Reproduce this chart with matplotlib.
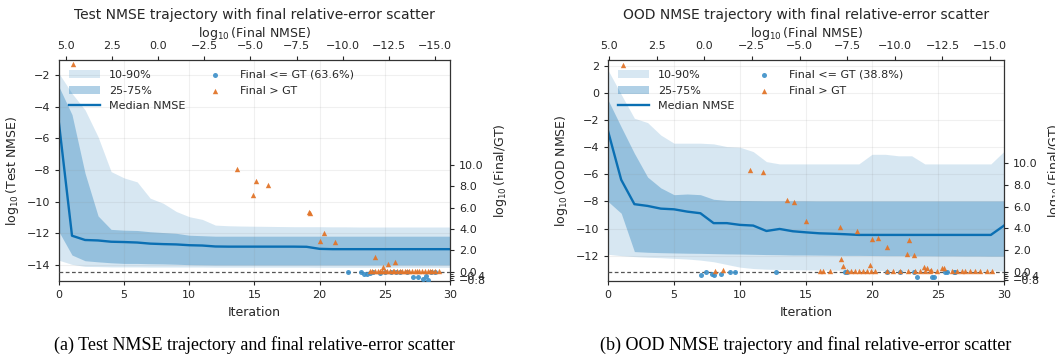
import matplotlib

matplotlib.use("Agg")

import matplotlib.pyplot as plt
from matplotlib.ticker import FixedLocator, FuncFormatter, MultipleLocator

# per-iteration percentiles of log10 NMSE
iterations = list(range(31))

test_p10 = [-13.70, -13.96, -14.09, -14.10, -14.12, -14.12, -14.12, -14.13, -14.13, -14.13,
            -14.13, -14.13, -14.14, -14.14, -14.14, -14.14, -14.14, -14.14, -14.14, -14.14,
            -14.15, -14.15, -14.15, -14.15, -14.15, -14.15, -14.15, -14.15, -14.15, -14.15, -14.15]
test_p25 = [-11.90, -13.37, -13.73, -13.80, -13.86, -13.90, -13.90, -13.92, -13.93, -13.95,
            -13.98, -13.99, -14.00, -14.00, -14.00, -14.00, -14.00, -14.00, -14.00, -14.00,
            -14.00, -14.00, -14.00, -14.00, -14.00, -14.00, -14.00, -14.00, -14.00, -14.00, -14.00]
test_p50 = [-5.05, -12.15, -12.42, -12.45, -12.53, -12.55, -12.58, -12.65, -12.68, -12.70,
            -12.75, -12.77, -12.83, -12.84, -12.84, -12.84, -12.84, -12.84, -12.84, -12.85,
            -12.98, -13.00, -13.00, -13.00, -13.00, -13.00, -13.00, -13.00, -13.00, -13.00, -13.00]
test_p75 = [-2.74, -4.50, -8.20, -10.90, -11.75, -11.80, -11.82, -11.90, -11.95, -12.00,
            -12.12, -12.15, -12.18, -12.18, -12.18, -12.18, -12.18, -12.18, -12.18, -12.18,
            -12.18, -12.18, -12.18, -12.18, -12.18, -12.18, -12.18, -12.18, -12.18, -12.18, -12.18]
test_p90 = [-1.90, -3.16, -4.20, -5.90, -8.10, -8.50, -8.75, -9.78, -10.10, -10.62,
            -10.95, -11.12, -11.48, -11.52, -11.54, -11.55, -11.56, -11.57, -11.58, -11.58,
            -11.58, -11.59, -11.59, -11.60, -11.60, -11.60, -11.60, -11.60, -11.60, -11.60, -11.60]

ood_p10 = [-11.90, -12.00, -12.07, -12.12, -12.15, -12.20, -12.25, -12.33, -12.45, -12.65,
           -12.85, -12.95, -13.00, -13.02, -13.04, -13.05, -13.06, -13.07, -13.08, -13.08,
           -13.09, -13.09, -13.10, -13.10, -13.10, -13.11, -13.11, -13.11, -13.12, -13.12, -13.12]
ood_p25 = [-8.00, -8.87, -11.70, -11.75, -11.78, -11.80, -11.82, -11.83, -11.85, -11.87,
           -11.88, -11.90, -11.92, -11.93, -11.95, -11.95, -11.96, -11.97, -11.98, -11.98,
           -11.99, -12.00, -12.00, -12.01, -12.01, -12.02, -12.02, -12.03, -12.03, -12.04, -12.04]
ood_p50 = [-2.80, -6.40, -8.20, -8.33, -8.53, -8.58, -8.75, -8.87, -9.60, -9.60,
           -9.73, -9.78, -10.18, -10.03, -10.20, -10.28, -10.35, -10.38, -10.42, -10.47,
           -10.47, -10.47, -10.47, -10.47, -10.47, -10.47, -10.47, -10.47, -10.47, -10.47, -9.78]
ood_p75 = [-0.50, -2.50, -4.45, -6.20, -7.00, -7.50, -7.45, -7.50, -7.84, -7.92,
           -7.93, -7.94, -7.95, -7.95, -7.95, -7.95, -7.96, -7.96, -7.96, -7.96,
           -7.96, -7.96, -7.96, -7.96, -7.96, -7.96, -7.96, -7.96, -7.96, -7.96, -7.96]
ood_p90 = [1.70, -0.10, -1.86, -2.18, -3.10, -3.70, -3.70, -3.70, -3.75, -3.95,
           -4.00, -4.32, -5.06, -5.23, -5.23, -5.23, -5.23, -5.23, -5.23, -5.23,
           -4.52, -4.52, -4.63, -4.63, -5.23, -5.23, -5.23, -5.23, -5.23, -5.23, -4.30]

# final scatter: x = log10(final NMSE), y = log10(final / GT)
test_le_x = [-10.30, -10.99, -11.15, -11.30, -11.45, -11.64, -12.02, -12.30, -12.60, -12.90,
             -13.10, -13.50, -13.81, -14.09, -14.36, -14.51, -14.63, -14.80, -15.00]
test_le_y = [-0.02, -0.03, -0.20, -0.25, -0.10, -0.03, -0.15, -0.02, -0.03, -0.02,
             -0.03, -0.02, -0.50, -0.50, -0.66, -0.41, -0.81, -0.02, -0.02]
test_gt_x = [4.62, -4.27, -5.13, -5.30, -5.95, -8.15, -8.22, -8.77, -9.00, -9.58,
             -11.76, -12.20, -12.47, -12.83,
             -11.50, -11.60, -11.75, -11.90, -12.00, -12.15, -12.30, -12.40, -12.55, -12.70,
             -12.80, -12.95, -13.10, -13.20, -13.35, -13.50, -13.60, -13.75, -13.90, -14.00,
             -14.15, -14.30, -14.45, -14.60, -14.75, -14.85, -15.00, -15.20]
test_gt_y = [19.50, 9.60, 7.20, 8.50, 8.15, 5.60, 5.50, 2.90, 3.65, 2.80,
             1.40, 0.47, 0.75, 0.94,
             0.03, 0.02, 0.04, 0.02, 0.03, 0.05, 0.02, 0.03, 0.04, 0.02,
             0.03, 0.02, 0.04, 0.03, 0.02, 0.05, 0.03, 0.02, 0.04, 0.03,
             0.02, 0.03, 0.04, 0.02, 0.03, 0.02, 0.03, 0.02]
test_le_pct = 63.6

ood_le_x = [0.18, -0.10, -0.39, -0.50, -0.87, -1.35, -1.63, -3.75, -7.39, -7.48,
            -9.58, -10.28, -10.98, -11.15, -11.94, -12.08, -12.64, -12.73, -13.08, -13.17]
ood_le_y = [-0.30, -0.03, -0.25, -0.30, -0.25, -0.06, -0.06, -0.06, -0.03, -0.03,
            -0.02, -0.02, -0.02, -0.52, -0.46, -0.46, -0.02, -0.02, -0.02, -0.02]
ood_gt_x = [4.25, -2.40, -3.10, -4.36, -4.71, -5.33, -7.13, -8.04, -8.79, -9.10,
            -9.61, -10.75, -10.63, -10.98, -7.18, -7.30, -8.70, -1.00, -0.57, -12.50,
            -11.68, -12.59, -11.90, -11.55,
            -6.08, -6.25, -6.60, -7.48, -7.69, -7.90, -8.11, -8.33, -8.54, -8.75,
            -8.96, -9.60, -9.91, -10.28, -10.70, -11.07, -11.33, -11.59, -11.85, -12.22,
            -13.00, -13.27, -13.53, -13.69, -13.95, -14.22, -14.48, -14.85, -15.11]
ood_gt_y = [19.10, 9.42, 9.25, 6.58, 6.45, 4.72, 4.16, 3.77, 3.00, 3.15,
            2.32, 2.91, 1.61, 1.54, 1.21, 0.55, 0.59, 0.20, 0.05, 0.37,
            0.32, 0.37, 0.20, 0.43,
            0.03, 0.02, 0.04, 0.03, 0.02, 0.03, 0.04, 0.02, 0.03, 0.02,
            0.04, 0.03, 0.02, 0.03, 0.04, 0.02, 0.03, 0.02, 0.04, 0.03,
            0.02, 0.03, 0.04, 0.02, 0.03, 0.02, 0.04, 0.03, 0.02]
ood_le_pct = 38.8

INK = "#262626"
BAND = "#0a6fb3"
BLUE_PT = "#3b8fc8"
ORANGE_PT = "#e2752a"

plt.rcParams.update({
    "font.family": ["DejaVu Sans"],
    "text.color": INK,
    "axes.labelcolor": INK,
    "axes.edgecolor": "#333333",
    "axes.linewidth": 0.9,
    "xtick.color": INK,
    "ytick.color": INK,
    "xtick.labelsize": 8,
    "ytick.labelsize": 8,
    "xtick.major.size": 3,
    "ytick.major.size": 3,
    "xtick.minor.size": 2,
    "ytick.minor.size": 2,
    "axes.labelsize": 9,
    "mathtext.fontset": "dejavusans",
})


def minus(v, _pos):
    return f"{v:.1f}".replace("-", "\u2212")


def draw_panel(fig, rect, p10, p25, p50, p75, p90, le_x, le_y, gt_x, gt_y, le_pct,
               name, ylim, top_lim, right_lim, title, caption):
    ax = fig.add_axes(rect)
    ax.grid(True, color="#888888", alpha=0.12, linewidth=0.8)
    band_outer = ax.fill_between(iterations, p10, p90, color=BAND, alpha=0.16,
                                 linewidth=0, label="10-90%")
    band_inner = ax.fill_between(iterations, p25, p75, color=BAND, alpha=0.32,
                                 linewidth=0, label="25-75%")
    (median,) = ax.plot(iterations, p50, color=BAND, linewidth=1.7, label="Median NMSE")
    ax.set_xlim(0, 30)
    ax.set_ylim(*ylim)
    ax.xaxis.set_major_locator(MultipleLocator(5))
    ax.yaxis.set_major_locator(MultipleLocator(2))
    ax.set_xlabel("Iteration")
    ax.set_ylabel(rf"$\log_{{10}}$({name})")

    sc = fig.add_axes(rect, frameon=False)
    sc.set_facecolor("none")
    sc.xaxis.tick_top()
    sc.xaxis.set_label_position("top")
    sc.yaxis.tick_right()
    sc.yaxis.set_label_position("right")
    sc.axhline(0, color="#555555", linewidth=0.9, linestyle=(0, (3, 2)), zorder=1)
    pts_le = sc.scatter(le_x, le_y, s=13, marker="o", color=BLUE_PT, linewidths=0,
                        alpha=0.9, zorder=2, label=f"Final <= GT ({le_pct:.1f}%)")
    pts_gt = sc.scatter(gt_x, gt_y, s=15, marker="^", color=ORANGE_PT, linewidths=0,
                        alpha=0.95, zorder=3, label="Final > GT")
    sc.set_xlim(*top_lim)
    sc.set_ylim(*right_lim)
    sc.xaxis.set_major_locator(MultipleLocator(2.5))
    sc.yaxis.set_major_locator(FixedLocator([-0.8, -0.4, 0.0, 2, 4, 6, 8, 10]))
    sc.yaxis.set_minor_locator(FixedLocator([-0.6, -0.2]))
    sc.yaxis.set_major_formatter(FuncFormatter(minus))
    sc.set_xlabel(r"$\log_{10}$(Final NMSE)", labelpad=3)
    sc.set_ylabel(r"$\log_{10}$(Final/GT)")
    sc.set_title(title, fontsize=10, color=INK, pad=4)

    sc.legend([band_outer, band_inner, median, pts_le, pts_gt],
              ["10-90%", "25-75%", "Median NMSE", pts_le.get_label(), pts_gt.get_label()],
              loc="upper left", ncol=2, frameon=False, fontsize=8,
              handlelength=2.8, columnspacing=1.3)

    cx = rect[0] + rect[2] / 2
    fig.text(cx, 0.031, caption, ha="center", va="center", fontsize=13, color="black",
             family=["Liberation Serif", "DejaVu Serif"])


fig = plt.figure(figsize=(10.55, 3.56), dpi=100)

draw_panel(fig, [0.0559, 0.2107, 0.3706, 0.6208],
           test_p10, test_p25, test_p50, test_p75, test_p90,
           test_le_x, test_le_y, test_gt_x, test_gt_y, test_le_pct,
           "Test NMSE", (-15.01, -1.05), (5.38, -15.81), (-0.87, 19.84),
           "Test NMSE trajectory with final relative-error scatter",
           "(a) Test NMSE trajectory and final relative-error scatter")

draw_panel(fig, [0.5763, 0.2107, 0.3754, 0.6208],
           ood_p10, ood_p25, ood_p50, ood_p75, ood_p90,
           ood_le_x, ood_le_y, ood_gt_x, ood_gt_y, ood_le_pct,
           "OOD NMSE", (-13.87, 2.44), (5.05, -15.73), (-0.86, 19.56),
           "OOD NMSE trajectory with final relative-error scatter",
           "(b) OOD NMSE trajectory and final relative-error scatter")

fig.savefig("out.png", dpi=100)
plt.close(fig)
